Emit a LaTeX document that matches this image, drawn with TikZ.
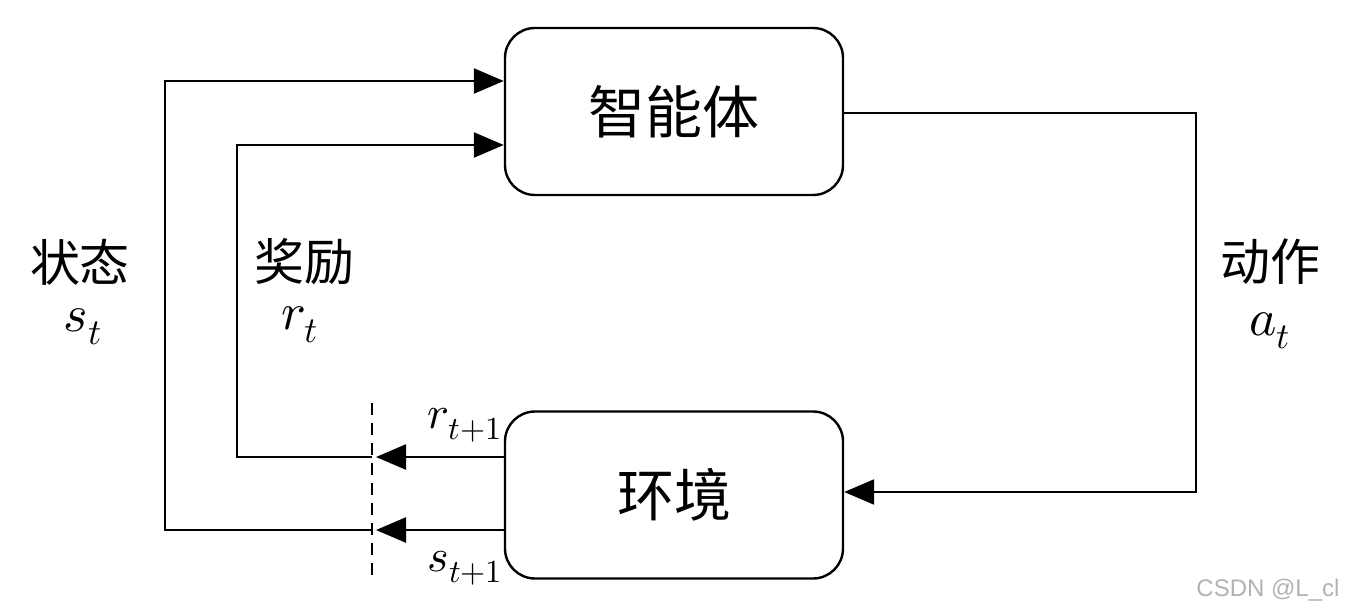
\documentclass[tikz,border=0pt]{standalone}
\usepackage{fontspec}
\usepackage{unicode-math}
\setmathfont{Latin Modern Math}
\newfontfamily\cjk{Noto Sans CJK SC}
\newfontfamily\wmfont{Liberation Sans}
\usetikzlibrary{arrows.meta}
\begin{document}
\begin{tikzpicture}[x=1pt,y=-1pt,
  box/.style={draw,line width=2.4pt,rounded corners=30pt,minimum width=338pt,minimum height=167pt,font=\cjk\fontsize{57}{62}\selectfont},
  conn/.style={line width=2.4pt},
  arr/.style={conn,-{Triangle[length=30pt,width=25pt]}},
  lab/.style={font=\cjk\fontsize{50}{56}\selectfont},
  mth/.style={font=\fontsize{52}{58}\selectfont},
  smth/.style={font=\fontsize{46}{52}\selectfont}]
\useasboundingbox (0,0) rectangle (1350,613);
\node[box] (agent) at (674,111.5) {智能体};
\node[box] (env) at (674,495) {环境};
% dashed cut line
\coordinate (dtop) at (372,403);
\coordinate (dbot) at (372,579);
\draw[line width=2.8pt,dash pattern=on 12pt off 8pt] (dtop) -- (dbot);
% arrows from env to the cut
\coordinate (rcut) at (376,457);
\coordinate (scut) at (376,530);
\draw[arr] (env.west |- rcut) -- (rcut);
\draw[arr] (env.west |- scut) -- (scut);
% reward feedback
\coordinate (r0) at (372,457);
\coordinate (r1) at (237,457);
\coordinate (r2) at (237,145);
\draw[arr] (r0) -- (r1) -- (r2) -- (agent.west |- r2);
% state feedback
\coordinate (s0) at (372,530);
\coordinate (s1) at (165,530);
\coordinate (s2) at (165,81);
\draw[arr] (s0) -- (s1) -- (s2) -- (agent.west |- s2);
% action
\coordinate (a1) at (1196,113);
\coordinate (a2) at (1196,492);
\draw[arr] (agent.east |- a1) -- (a1) -- (a2) -- (env.east |- a2);
% labels
\node[lab] (lstate) at (80,262) {状态};
\node[mth] (lst) at (83,327) {$s_t$};
\node[lab] (lrew) at (304,262) {奖励};
\node[mth] (lrt) at (300,325) {$r_t$};
\node[lab] (lact) at (1270,262) {动作};
\node[mth] (lat) at (1270,331) {$a_t$};
\node[smth] (lrt1) at (465,425) {$r_{t+1}$};
\node[smth] (lst1) at (465,568) {$s_{t+1}$};
\node[font=\wmfont\fontsize{24}{28}\selectfont,text=gray!60] (wm) at (1268,590) {CSDN @L\_cl};
\end{tikzpicture}
\end{document}
